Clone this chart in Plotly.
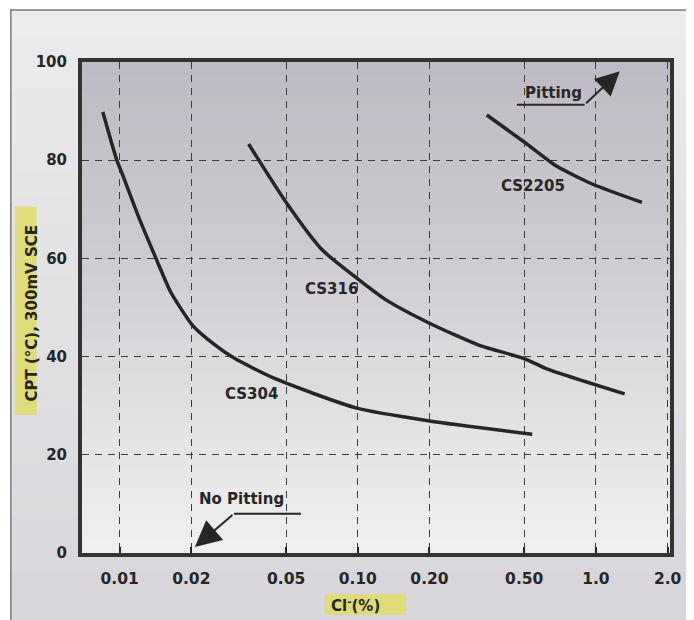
import numpy as np
import plotly.graph_objects as go

# ---- data ----
x_ticks = [0.01, 0.02, 0.05, 0.10, 0.20, 0.50, 1.0, 2.0]
x_tick_labels = ["0.01", "0.02", "0.05", "0.10", "0.20", "0.50", "1.0", "2.0"]
y_ticks = [0, 20, 40, 60, 80, 100]

cs304_x = [0.0085, 0.0097, 0.0102, 0.012, 0.0143, 0.0164, 0.0202, 0.0232, 0.030, 0.045, 0.099, 0.20, 0.54]
cs304_y = [89.8, 80.2, 77.5, 68.5, 59.7, 53.1, 46.4, 43.7, 39.8, 35.5, 29.5, 26.9, 24.2]

cs316_x = [0.0348, 0.0497, 0.071, 0.099, 0.132, 0.20, 0.324, 0.50, 0.622, 1.32]
cs316_y = [83.3, 71.6, 61.7, 56.0, 51.5, 46.8, 42.3, 39.6, 37.5, 32.4]

cs2205_x = [0.348, 0.50, 0.683, 0.97, 1.56]
cs2205_y = [89.2, 83.7, 78.8, 75.1, 71.4]

curve_names = ["CS304", "CS316", "CS2205"]
label_x = [0.0357, 0.0777, 0.543]
label_y = [32.4, 53.7, 74.7]

pitting_line_x = [0.466, 0.896]
pitting_line_y = [91.3, 91.3]
pitting_tip = (1.26, 98.1)
pitting_text = (0.664, 93.6)

nopit_line_x = [0.0577, 0.0302]
nopit_line_y = [8.0, 8.0]
nopit_tip = (0.0207, 1.2)
nopit_text = (0.0325, 11.0)

FONT = "DejaVu Sans"
INK = "#262626"

fig = go.Figure()

for xs, ys, nm in zip([cs304_x, cs316_x, cs2205_x], [cs304_y, cs316_y, cs2205_y], curve_names):
    fig.add_trace(go.Scatter(x=xs, y=ys, mode="lines", name=nm,
                             line=dict(color=INK, width=3.5, shape="spline", smoothing=0.6)))

# pointer underlines
fig.add_trace(go.Scatter(x=pitting_line_x, y=pitting_line_y, mode="lines",
                         line=dict(color=INK, width=2), hoverinfo="skip"))
fig.add_trace(go.Scatter(x=nopit_line_x, y=nopit_line_y, mode="lines",
                         line=dict(color=INK, width=2), hoverinfo="skip"))

annotations = []
for nm, lx, ly in zip(curve_names, label_x, label_y):
    annotations.append(dict(x=np.log10(lx), y=ly, xref="x", yref="y", text=nm, showarrow=False,
                            xanchor="center", yanchor="middle",
                            font=dict(family=FONT, size=15, color=INK, weight="bold")))
annotations.append(dict(x=np.log10(pitting_text[0]), y=pitting_text[1], xref="x", yref="y",
                        text="Pitting", showarrow=False, xanchor="center", yanchor="middle",
                        font=dict(family=FONT, size=15, color=INK, weight="bold")))
annotations.append(dict(x=np.log10(nopit_text[0]), y=nopit_text[1], xref="x", yref="y",
                        text="No Pitting", showarrow=False, xanchor="center", yanchor="middle",
                        font=dict(family=FONT, size=15, color=INK, weight="bold")))
# arrows
annotations.append(dict(x=np.log10(pitting_tip[0]), y=pitting_tip[1], xref="x", yref="y",
                        ax=np.log10(pitting_line_x[1]), ay=pitting_line_y[1], axref="x", ayref="y",
                        text="", showarrow=True, arrowhead=2, arrowsize=2.4, arrowwidth=2,
                        arrowcolor=INK))
annotations.append(dict(x=np.log10(nopit_tip[0]), y=nopit_tip[1], xref="x", yref="y",
                        ax=np.log10(nopit_line_x[1]), ay=nopit_line_y[1], axref="x", ayref="y",
                        text="", showarrow=True, arrowhead=2, arrowsize=2.6, arrowwidth=2,
                        arrowcolor=INK))
# axis titles
annotations.append(dict(x=-0.0857, y=0.487, xref="paper", yref="paper",
                        xanchor="center", yanchor="middle",
                        text="CPT (°C), 300mV SCE", textangle=-90, showarrow=False,
                        font=dict(family=FONT, size=15, color=INK, weight="bold")))
annotations.append(dict(x=0.4655, y=-0.106, xref="paper", yref="paper",
                        xanchor="center", yanchor="middle",
                        text="Cl<sup>-</sup>(%)", showarrow=False,
                        font=dict(family=FONT, size=15, color=INK, weight="bold")))

# background shading (scanned page look)
shapes = []
def lerp(c0, c1, t):
    return "rgb(%d,%d,%d)" % tuple(int(round(a + (b - a) * t)) for a, b in zip(c0, c1))

# outer frame gradient
n_out = 24
fy0, fy1 = -0.2, 1.106
for i in range(n_out):
    a = fy0 + (fy1 - fy0) * i / n_out
    b = fy0 + (fy1 - fy0) * (i + 1) / n_out + 0.002
    t = 1 - (i + 0.5) / n_out
    shapes.append(dict(type="rect", xref="paper", yref="paper", x0=-0.121, x1=1.05, y0=a, y1=min(b, fy1),
                       fillcolor=lerp((236, 236, 236), (214, 212, 217), t), line=dict(width=0), layer="below"))
shapes.append(dict(type="rect", xref="paper", yref="paper", x0=-0.121, x1=1.05, y0=fy0, y1=fy1,
                   fillcolor="rgba(0,0,0,0)", line=dict(color="#7a7a7a", width=1.5), layer="below"))
# highlighter strokes behind axis titles
HL = "rgba(224,218,104,0.85)"
shapes.append(dict(type="rect", xref="paper", yref="paper", x0=-0.1143, x1=-0.0773, y0=0.281, y1=0.705,
                   fillcolor=HL, line=dict(width=0), layer="below"))
shapes.append(dict(type="rect", xref="paper", yref="paper", x0=0.413, x1=0.551, y0=-0.126, y1=-0.0835,
                   fillcolor=HL, line=dict(width=0), layer="below"))
# plot-area gradient (dark top -> light bottom)
n_in = 30
stops = [(0.0, (240, 240, 240)), (0.25, (227, 226, 229)), (0.6, (206, 204, 209)), (1.0, (189, 186, 195))]
def grad(t):
    for (t0, c0), (t1, c1) in zip(stops[:-1], stops[1:]):
        if t <= t1:
            return lerp(c0, c1, (t - t0) / (t1 - t0))
    return lerp(stops[-1][1], stops[-1][1], 0)
for i in range(n_in):
    a = i / n_in
    b = (i + 1) / n_in + 0.002
    shapes.append(dict(type="rect", xref="paper", yref="paper", x0=0, x1=1, y0=a, y1=min(b, 1),
                       fillcolor=grad((i + 0.5) / n_in), line=dict(width=0), layer="below"))

# page body has an 8px margin, so the figure is offset by 8px
fig.update_layout(
    width=686, height=612,
    margin=dict(l=74, r=17, t=54, b=67),
    paper_bgcolor="white", plot_bgcolor="#d0ced4",
    showlegend=False,
    annotations=annotations, shapes=shapes,
    font=dict(family=FONT, color=INK),
)
fig.update_xaxes(type="log", range=[-2.158, 0.311],
                 tickvals=x_ticks, ticktext=x_tick_labels,
                 ticks="inside", ticklen=6, tickwidth=1.5, tickcolor=INK, ticklabelstandoff=8,
                 tickfont=dict(family=FONT, size=15.5, color=INK, weight="bold"),
                 showgrid=True, gridcolor="#3c3c3c", gridwidth=1, griddash="7px,6px",
                 showline=True, mirror=True, linewidth=4, linecolor="#333333", zeroline=False)
fig.update_yaxes(range=[0, 100], tickvals=y_ticks,
                 ticks="", ticklabelstandoff=8,
                 tickfont=dict(family=FONT, size=15, color=INK, weight="bold"),
                 showgrid=True, gridcolor="#3c3c3c", gridwidth=1, griddash="7px,6px",
                 showline=True, mirror=True, linewidth=4, linecolor="#333333", zeroline=False)

fig.write_html("out.html")
